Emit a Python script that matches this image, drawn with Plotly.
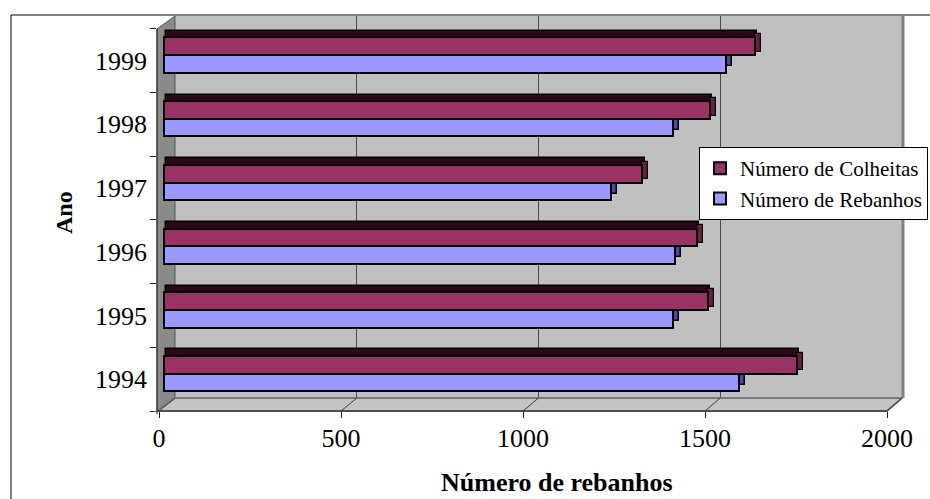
import plotly.graph_objects as go

# ---- data -------------------------------------------------------------
anos = ["1994", "1995", "1996", "1997", "1998", "1999"]
colheitas = [1740, 1495, 1465, 1315, 1500, 1625]
rebanhos = [1580, 1400, 1405, 1230, 1400, 1545]
x_ticks = [0, 500, 1000, 1500, 2000]

# ---- page geometry (pixels) -------------------------------------------
W, H = 930, 499
PL, PR, PT, PB = 157, 905, 16, 411          # plot area
CAT_PX = 63.7                               # height of one year band
FONT = "Liberation Serif"

COL_C = "#993366"
COL_R = "#9999FF"


def px_x(px):
    return (px - PL) / (PR - PL)


def px_y(py):
    return (PB - py) / (PB - PT)


def scale_range(px0, px2000):
    """Axis range whose 0 and 2000 land on the given pixel columns."""
    s = (px2000 - px0) / 2000.0
    return [(PL - px0) / s, (PR - px0) / s]


BAR_R = scale_range(163.5, 891.5)    # bar faces (mid depth)
FRONT_R = scale_range(159, 887)      # front edge of the floor
BACK_R = scale_range(175, 902)       # back wall


def val_px(v, rng):
    return PL + (v - rng[0]) / (rng[1] - rng[0]) * (PR - PL)


y_range = [-0.5, -0.5 + (PB - PT) / CAT_PX]
ypos = list(range(len(anos)))

# bar slots inside each year band
C_OFF, C_W = 0.085, 0.28
R_OFF, R_W = -0.19, 0.275
DEPTH_DX = 6 / ((891.5 - 163.5) / 2000.0)   # 6 px to the right
DEPTH_DY = 6.5 / CAT_PX                     # 6.5 px up

fig = go.Figure()

# 3-D depth faces (drawn first, behind the fronts)
fig.add_trace(go.Bar(
    y=ypos, x=colheitas, base=[DEPTH_DX * 0.4] * len(anos), orientation="h",
    offset=C_OFF + DEPTH_DY, width=C_W,
    marker=dict(color="#2a0818", line=dict(color="black", width=1.5)),
    showlegend=False, hoverinfo="skip"))
fig.add_trace(go.Bar(
    y=ypos, x=[v + DEPTH_DX * 0.6 for v in rebanhos], base=[DEPTH_DX * 0.4] * len(anos),
    orientation="h", offset=R_OFF + DEPTH_DY, width=R_W,
    marker=dict(color="#4b4b9a", line=dict(color="black", width=1.5)),
    showlegend=False, hoverinfo="skip"))
# right-hand side face of the Colheitas bars (a lighter maroon)
fig.add_trace(go.Bar(
    y=ypos, x=[DEPTH_DX] * len(anos), base=colheitas, orientation="h",
    offset=C_OFF + DEPTH_DY * 0.5, width=C_W,
    marker=dict(color="#6a1f45", line=dict(color="black", width=1.2)),
    showlegend=False, hoverinfo="skip"))

# front faces
fig.add_trace(go.Bar(
    y=ypos, x=colheitas, orientation="h", offset=C_OFF, width=C_W,
    name="Número de Colheitas",
    marker=dict(color=COL_C, line=dict(color="black", width=2))))
fig.add_trace(go.Bar(
    y=ypos, x=rebanhos, orientation="h", offset=R_OFF, width=R_W,
    name="Número de Rebanhos",
    marker=dict(color=COL_R, line=dict(color="black", width=2))))

# invisible carriers for the front and back scales
fig.add_trace(go.Scatter(x=[0], y=[0], xaxis="x2", yaxis="y", mode="markers",
                         marker=dict(opacity=0), showlegend=False, hoverinfo="skip"))
fig.add_trace(go.Scatter(x=[0], y=[0], xaxis="x3", yaxis="y", mode="markers",
                         marker=dict(opacity=0), showlegend=False, hoverinfo="skip"))
fig.add_trace(go.Scatter(x=[0], y=[0], xaxis="x", yaxis="y2", mode="markers",
                         marker=dict(opacity=0), showlegend=False, hoverinfo="skip"))

# ---- walls, floor and frame --------------------------------------------
shapes = []
wall_back_top, wall_back_bot = 16, 398
front_top = 29

# back wall
shapes.append(dict(type="rect", xref="paper", yref="paper", layer="below",
                   x0=px_x(175), x1=px_x(902), y0=px_y(wall_back_bot), y1=px_y(wall_back_top),
                   fillcolor="#C0C0C0", line=dict(width=0)))
shapes.append(dict(type="line", xref="paper", yref="paper", layer="below",
                   x0=px_x(903), x1=px_x(903), y0=px_y(wall_back_bot), y1=px_y(wall_back_top),
                   line=dict(color="#808080", width=3)))


def path(points):
    d = "M " + " L ".join(f"{px_x(a):.5f},{px_y(b):.5f}" for a, b in points)
    return d + " Z"


# left wall
shapes.append(dict(type="path", xref="paper", yref="paper", layer="below",
                   path=path([(157, front_top), (175, wall_back_top),
                              (175, wall_back_bot), (157, PB)]),
                   fillcolor="#8A8A8A", line=dict(color="#555555", width=1)))
# floor
shapes.append(dict(type="path", xref="paper", yref="paper", layer="above",
                   path=path([(157, PB), (175, wall_back_bot), (902, wall_back_bot), (887, PB)]),
                   fillcolor="#C4C4C4", line=dict(color="#7A7A7A", width=2)))
# floor grid lines running from the back wall to the front ticks
for v in x_ticks:
    shapes.append(dict(type="line", xref="paper", yref="paper", layer="above",
                       x0=px_x(val_px(v, BACK_R)), y0=px_y(wall_back_bot),
                       x1=px_x(val_px(v, FRONT_R)), y1=px_y(PB),
                       line=dict(color="#3A3A3A", width=1)))
# front edges
shapes.append(dict(type="line", xref="paper", yref="paper", layer="above",
                   x0=px_x(157), x1=px_x(887), y0=px_y(PB), y1=px_y(PB),
                   line=dict(color="#222222", width=1)))
shapes.append(dict(type="line", xref="paper", yref="paper", layer="above",
                   x0=px_x(157), x1=px_x(157), y0=px_y(PB + 3), y1=px_y(front_top),
                   line=dict(color="#222222", width=1)))
# chart frame
shapes.append(dict(type="rect", xref="paper", yref="paper", layer="above",
                   x0=px_x(11), x1=px_x(W + 10), y0=px_y(H + 10), y1=px_y(15),
                   fillcolor="rgba(0,0,0,0)", line=dict(color="black", width=1)))

fig.update_layout(
    width=W, height=H,
    margin=dict(l=PL, r=W - PR, t=PT, b=H - PB, pad=0, autoexpand=False),
    paper_bgcolor="white", plot_bgcolor="rgba(0,0,0,0)",
    barmode="overlay", bargap=0,
    font=dict(family=FONT, color="black"),
    shapes=shapes,
    xaxis=dict(range=BAR_R, showgrid=False, zeroline=False, showticklabels=False,
               ticks="", showline=False),
    xaxis2=dict(range=FRONT_R, overlaying="x", anchor="y", side="bottom",
                tickvals=x_ticks, ticktext=[str(v) for v in x_ticks],
                ticks="outside", ticklen=6, tickcolor="#222222",
                showgrid=False, zeroline=False, showline=False,
                ticklabelstandoff=-2,
                tickfont=dict(family=FONT, size=26, color="black")),
    xaxis3=dict(range=BACK_R, overlaying="x", anchor="y", side="bottom",
                tickvals=x_ticks[1:-1], showticklabels=False, ticks="",
                showgrid=True, gridcolor="#4A4A4A", gridwidth=1,
                zeroline=False, showline=False),
    yaxis=dict(range=y_range, tickvals=ypos, ticktext=anos, ticks="",
               showgrid=False, zeroline=False, showline=False,
               ticklabelstandoff=9,
               tickfont=dict(family=FONT, size=26, color="black")),
    yaxis2=dict(range=y_range, overlaying="y", side="left", anchor="x",
                tickvals=[i - 0.5 for i in range(len(anos) + 1)],
                showticklabels=False, ticks="outside", ticklen=6,
                tickcolor="#222222", showgrid=False, zeroline=False, showline=False),
    legend=dict(x=px_x(699), y=px_y(147), xanchor="left", yanchor="top",
                bgcolor="white", bordercolor="black", borderwidth=1,
                font=dict(family=FONT, size=21, color="black"),
                traceorder="normal", tracegroupgap=0),
    annotations=[
        dict(text="<b>Número de rebanhos</b>", xref="paper", yref="paper",
             x=px_x(557), y=px_y(482), xanchor="center", yanchor="middle",
             showarrow=False, font=dict(family=FONT, size=26, color="black")),
        dict(text="<b>Ano</b>", xref="paper", yref="paper", textangle=-90,
             x=px_x(64), y=px_y(213), xanchor="center", yanchor="middle",
             showarrow=False, font=dict(family=FONT, size=24, color="black")),
    ],
)

fig.write_html("out.html")
